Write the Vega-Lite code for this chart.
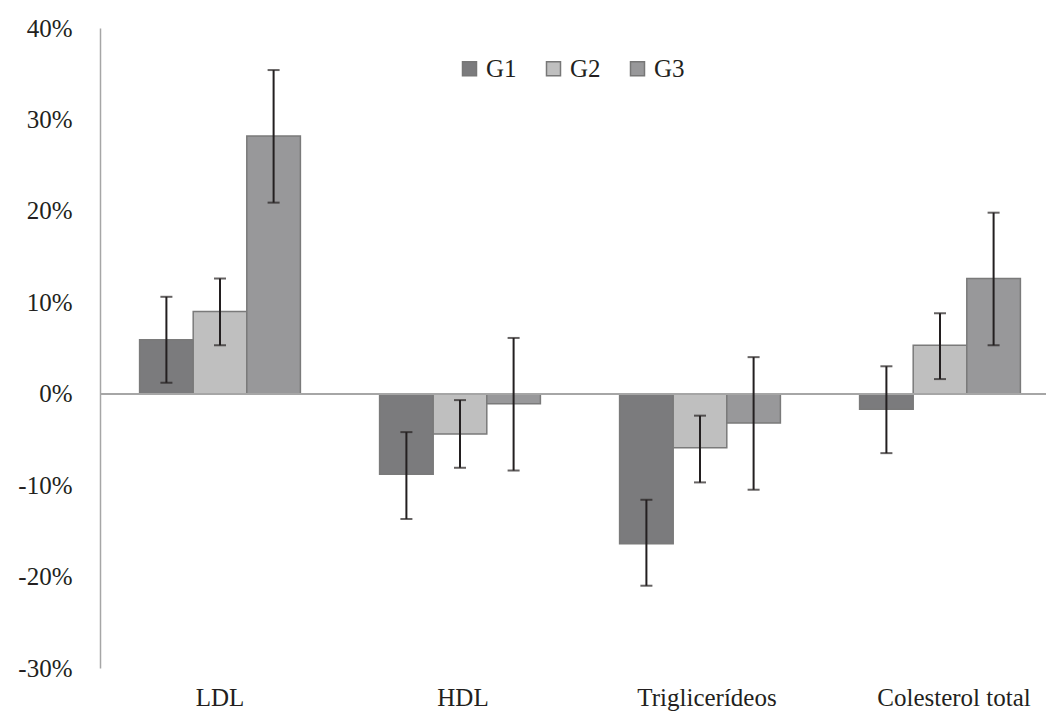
{
  "$schema": "https://vega.github.io/schema/vega-lite/v6.json",
  "width": 946,
  "height": 640,
  "autosize": {"type": "none"},
  "padding": {"left": 100, "top": 28, "right": 0, "bottom": 45},
  "background": "white",
  "config": {
    "view": {"stroke": null},
    "font": "Liberation Serif",
    "axis": {"labelFont": "Liberation Serif", "labelFontSize": 25, "labelColor": "#231f20", "grid": false, "ticks": false, "title": null},
    "legend": {"labelFont": "Liberation Serif", "labelFontSize": 25, "labelColor": "#231f20"}
  },
  "data": {"values": [
    {"cat": "LDL", "group": "G1", "value": 0.059, "lo": 0.012, "hi": 0.106},
    {"cat": "LDL", "group": "G2", "value": 0.090, "lo": 0.053, "hi": 0.126},
    {"cat": "LDL", "group": "G3", "value": 0.282, "lo": 0.209, "hi": 0.354},
    {"cat": "HDL", "group": "G1", "value": -0.088, "lo": -0.137, "hi": -0.042},
    {"cat": "HDL", "group": "G2", "value": -0.044, "lo": -0.081, "hi": -0.007},
    {"cat": "HDL", "group": "G3", "value": -0.011, "lo": -0.084, "hi": 0.061},
    {"cat": "Triglicerídeos", "group": "G1", "value": -0.164, "lo": -0.210, "hi": -0.116},
    {"cat": "Triglicerídeos", "group": "G2", "value": -0.059, "lo": -0.097, "hi": -0.024},
    {"cat": "Triglicerídeos", "group": "G3", "value": -0.032, "lo": -0.105, "hi": 0.040},
    {"cat": "Colesterol total", "group": "G1", "value": -0.017, "lo": -0.065, "hi": 0.030},
    {"cat": "Colesterol total", "group": "G2", "value": 0.053, "lo": 0.016, "hi": 0.088},
    {"cat": "Colesterol total", "group": "G3", "value": 0.126, "lo": 0.053, "hi": 0.198}
  ]},
  "encoding": {
    "x": {
      "field": "cat", "type": "nominal", "sort": null,
      "scale": {"range": [0, 960], "paddingInner": 0.33, "paddingOuter": 0.165},
      "axis": {
        "labelAngle": 0, "domain": false, "labelPadding": 17, "labelBaseline": "top",
        "labelOffset": {"condition": [{"test": "datum.value == 'Colesterol total'", "value": 14}, {"test": "datum.value == 'Triglicerídeos'", "value": 7}, {"test": "datum.value == 'HDL'", "value": 3}], "value": 0}
      }
    },
    "xOffset": {"field": "group", "type": "nominal", "sort": ["G1", "G2", "G3"]}
  },
  "layer": [
    {
      "mark": {"type": "bar", "stroke": "#7a7a7a", "strokeWidth": 1.5},
      "encoding": {
        "y": {
          "field": "value", "type": "quantitative",
          "scale": {"domain": [-0.3, 0.4], "nice": false},
          "axis": {"format": ".0%", "labelExpr": "replace(datum.label, '−', '-')", "values": [-0.3, -0.2, -0.1, 0, 0.1, 0.2, 0.3, 0.4], "domainColor": "#a6a6a6", "domainWidth": 1.5, "labelPadding": 28}
        },
        "color": {
          "field": "group", "type": "nominal",
          "scale": {"domain": ["G1", "G2", "G3"], "range": ["#7b7b7d", "#bfbfbf", "#98989a"]},
          "legend": {
            "title": null, "orient": "none", "direction": "horizontal",
            "legendX": 357, "legendY": 28,
            "symbolType": "square", "symbolSize": 196, "symbolStrokeColor": "#777777", "symbolStrokeWidth": 1.5,
            "labelOffset": 4, "columnPadding": 24
          }
        }
      }
    },
    {
      "mark": {"type": "rule", "color": "#a6a6a6", "strokeWidth": 1.5},
      "encoding": {"y": {"datum": 0, "type": "quantitative"}, "x": null, "xOffset": null}
    },
    {
      "mark": {"type": "rule", "color": "#231f20", "strokeWidth": 2},
      "encoding": {"y": {"field": "lo", "type": "quantitative"}, "y2": {"field": "hi"}}
    },
    {
      "mark": {"type": "tick", "color": "#231f20", "thickness": 2, "size": 12, "orient": "horizontal"},
      "encoding": {"y": {"field": "lo", "type": "quantitative"}}
    },
    {
      "mark": {"type": "tick", "color": "#231f20", "thickness": 2, "size": 12, "orient": "horizontal"},
      "encoding": {"y": {"field": "hi", "type": "quantitative"}}
    }
  ]
}
